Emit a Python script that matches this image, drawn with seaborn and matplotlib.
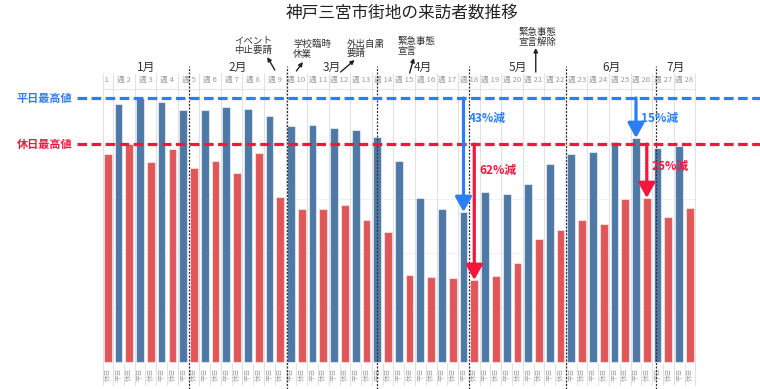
import matplotlib.pyplot as plt
import pandas as pd
import seaborn as sns
from matplotlib.transforms import Bbox, TransformedBbox


TITLE = "神戸三宮市街地の来訪者数推移"
WEEKS = list(range(1, 29))
SERIES = ["平日", "休日"]
# visitor index per week; week 1 weekday is cut off in the source image
WEEKDAY = [None, 258, 264, 260, 252, 252, 255, 253, 246, 236, 237, 234, 232, 225,
           201, 164, 153, 150, 170, 168, 178, 198, 208, 210, 220, 224, 214, 216]
HOLIDAY = [208, 218, 200, 213, 194, 201, 189, 209, 165, 153, 153, 157, 142, 130,
           87, 85, 84, 82, 86, 99, 123, 132, 142, 138, 163, 164, 145, 154]
MONTHS = ["1月", "2月", "3月", "4月", "5月", "6月", "7月"]
EVENTS = ["イベント\n中止要請", "学校臨時\n休業", "外出自粛\n要請", "緊急事態\n宣言", "緊急事態\n宣言解除"]
MAX_LABELS = ["平日最高値", "休日最高値"]
DROP_LABELS = ["43%減", "62%減", "15%減", "25%減"]
DROP_WEEKS = [18, 18, 26, 26]
DROP_SERIES = [0, 1, 0, 1]

BAR_COLORS = {"平日": "#4e79a7", "休日": "#e15759"}
LINE_COLORS = ["#2a7ff6", "#f5163d"]

# layout (data coordinates: one bar slot = 1 unit, 1 value unit = 1 px)
LEFT_EDGE, RIGHT_EDGE = 0.55, 55.5
MONTH_BREAKS = [8.5, 17.6, 26.0, 34.5, 43.5, 51.9]
GRID_STEP = 54.5
EVENT_TEXT_POS = [(14.5, 316, "center"), (18.2, 313, "left"), (23.2, 313, "left"),
                  (27.9, 315.5, "left"), (39.1, 324.5, "left")]
EVENT_ARROWS = [((16.5, 292), (15.8, 305)), ((18.5, 291), (19.1, 300)),
                ((22.6, 290), (23.9, 302)), ((29.0, 289), (29.4, 304)),
                ((40.7, 290), (40.7, 314))]
DROP_TEXT_Y = [244, 192, 244, 196]


def build_frame() -> pd.DataFrame:
    rows = []
    for i, week in enumerate(WEEKS):
        for j, values in enumerate([WEEKDAY, HOLIDAY]):
            rows.append({"week": week, "series": SERIES[j],
                         "pos": 2 * (week - 1) + j, "value": values[i]})
    frame = pd.DataFrame(rows)
    frame["value"] = frame["value"].astype(float)
    return frame


def main() -> None:
    sns.set_theme(style="white")
    plt.rcParams["font.family"] = ["Noto Sans CJK JP", "DejaVu Sans"]

    frame = build_frame()
    fig = plt.figure(figsize=(7.6, 3.89), dpi=100)
    ax = fig.add_axes([0, 0, 1, 1])

    sns.barplot(data=frame.dropna(), x="pos", y="value", hue="series",
                palette=BAR_COLORS, saturation=1, native_scale=True, dodge=False,
                width=0.72, errorbar=None, edgecolor=(1, 1, 1, 0.55), linewidth=0.8,
                legend=False, ax=ax, zorder=3)
    ax.set_axis_off()
    ax.set_xlim(-8.99, 61.5)
    ax.set_ylim(-27, 362)

    # table-like frame
    ax.hlines([GRID_STEP * k for k in range(1, 5)], LEFT_EDGE, RIGHT_EDGE,
              color="#f0f0f0", lw=0.7, zorder=1)
    ax.hlines(273, LEFT_EDGE, RIGHT_EDGE, color="#e4e4e4", lw=0.8, zorder=1)
    week_lines = [LEFT_EDGE] + [2 * w - 0.5 for w in WEEKS]
    ax.vlines(week_lines, -23, 289, color="#e2e2e2", lw=0.8, zorder=1)
    slot_lines = [p + 0.5 for p in frame["pos"] if p + 0.5 > LEFT_EDGE]
    ax.vlines(slot_lines, -23, -1, color="#e2e2e2", lw=0.8, zorder=1)

    # the first column is cropped at the chart's left edge
    clip_box = TransformedBbox(Bbox([[LEFT_EDGE, -30], [RIGHT_EDGE, 400]]), ax.transData)
    for week in WEEKS:
        t = ax.text(2 * (week - 1) + 0.5, 282, f"週 {week}", ha="center", va="center",
                    fontsize=5.6, color="#9a9a9a", clip_on=True)
        t.set_clip_box(clip_box)
        t.set_clip_path(None)
    for _, row in frame.iterrows():
        if row["pos"] > LEFT_EDGE:
            ax.text(row["pos"], -12, row["series"], rotation=90, ha="center", va="center",
                    fontsize=4.8, color="#a5a5a5")

    # month separators and labels
    ax.vlines(MONTH_BREAKS, -27, 296, colors="#333333", linestyles=(0, (1.6, 1.2)),
              lw=0.9, zorder=4)
    bounds = [LEFT_EDGE] + MONTH_BREAKS + [RIGHT_EDGE]
    for i, month in enumerate(MONTHS):
        ax.text((bounds[i] + bounds[i + 1]) / 2, 295, month, ha="center", va="center",
                fontsize=8.5, color="#333333")

    # event notes
    for text, (tx, ty, ha), (tail, head) in zip(EVENTS, EVENT_TEXT_POS, EVENT_ARROWS):
        ax.text(tx, ty, text, ha=ha, va="center", fontsize=6.8, color="#333333",
                linespacing=1.05, multialignment=ha)
        ax.annotate("", xy=head, xytext=tail,
                    arrowprops=dict(arrowstyle="-|>", color="#222222", lw=1.0,
                                    mutation_scale=6, shrinkA=0, shrinkB=0))

    # peak lines
    peaks = [max(v for v in WEEKDAY if v is not None), max(HOLIDAY)]
    for peak, label, color in zip(peaks, MAX_LABELS, LINE_COLORS):
        ax.hlines(peak, -1.85, 61.5, color=color, lw=2.3, linestyles=(0, (3, 1.4)), zorder=5)
        ax.text(-7.42, peak, label, ha="left", va="center", fontsize=8,
                fontweight="bold", color=color)

    # drop arrows
    series_values = [WEEKDAY, HOLIDAY]
    for label, week, s, ty in zip(DROP_LABELS, DROP_WEEKS, DROP_SERIES, DROP_TEXT_Y):
        pos = 2 * (week - 1) + s
        top = series_values[s][week - 1]
        color = LINE_COLORS[s]
        ax.annotate("", xy=(pos, top), xytext=(pos, peaks[s]),
                    arrowprops=dict(arrowstyle="-|>,head_width=0.5,head_length=0.9",
                                    color=color, lw=2.3, mutation_scale=10,
                                    shrinkA=0, shrinkB=0), zorder=6)
        ax.text(pos + 0.45, ty, label, ha="left", va="center", fontsize=8.5,
                fontweight="bold", color=color, zorder=6)

    fig.text(402 / 760, 1 - 13.5 / 389, TITLE, ha="center", va="center",
             fontsize=12, color="#222222")
    fig.savefig("out.png", dpi=100)
    plt.close(fig)


if __name__ == "__main__":
    main()
